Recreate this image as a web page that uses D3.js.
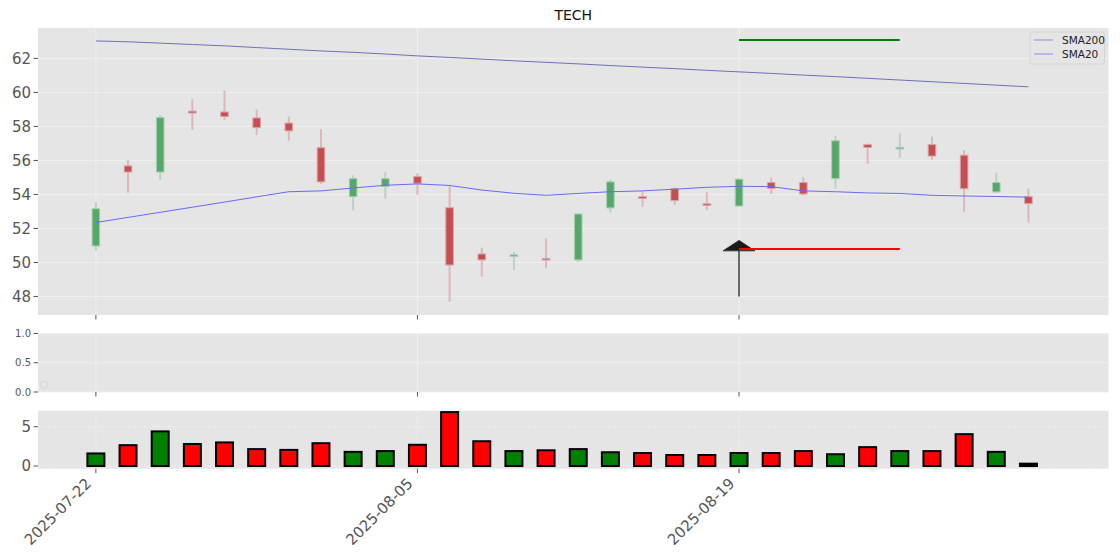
<!DOCTYPE html>
<html><head><meta charset="utf-8">
<script src="https://cdn.jsdelivr.net/npm/d3@7"></script>
<style>body{margin:0;background:#fff}svg{display:block;font-family:"DejaVu Sans",sans-serif}</style>
</head><body>
<svg id="c" width="1120" height="560"></svg>
<script>
const dates = ["2025-07-22","2025-07-23","2025-07-24","2025-07-25","2025-07-28","2025-07-29","2025-07-30","2025-07-31","2025-08-01","2025-08-04",
  "2025-08-05","2025-08-06","2025-08-07","2025-08-08","2025-08-11","2025-08-12","2025-08-13","2025-08-14","2025-08-15","2025-08-18",
  "2025-08-19","2025-08-20","2025-08-21","2025-08-22","2025-08-25","2025-08-26","2025-08-27","2025-08-28","2025-08-29","2025-09-02"];
const opens  = [50.97,55.68,55.32,58.90,58.85,58.50,58.20,56.75,53.87,54.46,55.05,53.22,50.50,50.38,50.24,50.15,53.21,53.87,54.34,53.45,53.32,54.70,54.70,54.93,56.93,56.68,56.93,56.31,54.15,53.87];
const highs  = [53.56,56.03,58.68,59.60,60.10,59.00,58.58,57.84,55.13,55.32,55.25,54.56,50.87,50.62,51.40,52.90,54.85,54.20,54.42,54.15,54.95,55.00,55.00,57.45,57.00,57.60,57.40,56.60,55.28,54.34];
const lows   = [50.69,54.11,54.85,57.79,58.38,57.50,57.17,54.62,53.05,53.75,53.99,47.69,49.16,49.56,49.68,50.03,52.93,53.28,53.40,53.09,53.30,54.03,53.95,54.35,55.80,56.15,56.03,52.97,54.10,52.34];
const closes = [53.16,55.32,58.52,58.79,58.58,57.93,57.74,54.74,54.93,54.93,54.66,49.85,50.15,50.45,50.16,52.85,54.74,53.76,53.64,53.35,54.90,54.35,54.03,57.16,56.76,56.77,56.26,54.34,54.70,53.46];
const sma200 = [63.03,62.98,62.90,62.82,62.74,62.64,62.54,62.44,62.36,62.26,62.15,62.06,61.96,61.86,61.77,61.68,61.58,61.49,61.40,61.30,61.21,61.12,61.02,60.93,60.83,60.73,60.63,60.53,60.43,60.33];
const sma20  = [52.35,52.65,52.95,53.25,53.55,53.86,54.16,54.21,54.38,54.54,54.62,54.53,54.26,54.07,53.95,54.06,54.16,54.21,54.31,54.42,54.48,54.46,54.21,54.16,54.09,54.06,53.95,53.91,53.88,53.84];
const volumes = [1.6,2.65,4.4,2.8,3.0,2.15,2.05,2.9,1.8,1.9,2.7,6.85,3.15,1.9,2.0,2.15,1.75,1.65,1.4,1.4,1.65,1.65,1.9,1.5,2.4,1.9,1.9,4.05,1.8,0.3];
const volColors = ["green","red","green","red","red","red","red","red","green","green","red","red","red","green","red","green","green","red","red","red",
  "green","red","red","green","red","green","red","red","green","black"];
const tickIdx = [0,10,20];
const tickLabels = ["2025-07-22","2025-08-05","2025-08-19"];
const priceTicks = [48,50,52,54,56,58,60,62];
const midTicks = [0,0.5,1];
const volTicks = [0,5];
const seriesNames = ["SMA200","SMA20"];
const signalStart = 20, signalEnd = 25;
const resistanceLevel = 63.09, supportLevel = 50.79;
const arrowFrom = 48.0, arrowTo = 51.3;

const svg = d3.select("#c");
const L = 38, R = 1108.5;
const x = d3.scaleLinear().domain([-1.8, 31.49]).range([L, R]);
const yP = d3.scaleLinear().domain([46.91, 63.79]).range([315, 28]);
const yM = d3.scaleLinear().domain([0, 1]).range([392, 333.5]);
const yV = d3.scaleLinear().domain([-0.34, 7.03]).range([468.7, 410.7]);
const BG = "#e5e5e5", TXT = "#555";

function panel(y, ticks, fontSize, dash, fmt) {
  const g = svg.append("g");
  const [b, t] = y.range();
  g.append("rect").attr("x", L).attr("y", t).attr("width", R - L).attr("height", b - t).attr("fill", BG);
  const grid = g.append("g").attr("stroke", "#efefef").attr("stroke-width", 1.1);
  if (dash) grid.attr("stroke-dasharray", dash).attr("stroke", "#eeeeee");
  ticks.forEach(v => grid.append("line").attr("x1", L).attr("x2", R).attr("y1", y(v)).attr("y2", y(v)));
  tickIdx.forEach(i => grid.append("line").attr("x1", x(i)).attr("x2", x(i)).attr("y1", t).attr("y2", b));
  ticks.forEach(v => {
    g.append("line").attr("x1", L - 4.5).attr("x2", L).attr("y1", y(v)).attr("y2", y(v)).attr("stroke", TXT).attr("stroke-width", 1);
    g.append("text").attr("x", L - 7).attr("y", y(v)).attr("dy", "0.36em").attr("text-anchor", "end")
      .attr("font-size", fontSize).attr("fill", TXT).text(fmt(v));
  });
  tickIdx.forEach(i => g.append("line").attr("x1", x(i)).attr("x2", x(i)).attr("y1", b).attr("y2", b + 4.5)
    .attr("stroke", TXT).attr("stroke-width", 1));
  return g;
}

// main panel
const gm = panel(yP, priceTicks, 15, null, d => d);
const idx = d3.range(dates.length);
const up = i => closes[i] >= opens[i];
gm.append("g").selectAll("line").data(idx).join("line")
  .attr("x1", i => x(i)).attr("x2", i => x(i)).attr("y1", i => yP(highs[i])).attr("y2", i => yP(lows[i]))
  .attr("stroke", i => up(i) ? "#bad3c0" : "#dbb8b9").attr("stroke-width", 2);
gm.append("g").selectAll("rect").data(idx).join("rect")
  .attr("x", i => x(i) - 3.8).attr("width", 7.6)
  .attr("y", i => yP(Math.max(opens[i], closes[i])))
  .attr("height", i => Math.max(1.6, yP(Math.min(opens[i], closes[i])) - yP(Math.max(opens[i], closes[i]))))
  .attr("fill", i => up(i) ? "#55a868" : "#c44e52")
  .attr("stroke", i => up(i) ? "#a9cfb2" : "#dca4a6").attr("stroke-width", 1);

const line = s => d3.line().x((d, i) => x(i)).y(d => yP(d))(s);
gm.append("path").attr("d", line(sma200)).attr("fill", "none").attr("stroke", "#6f6fba").attr("stroke-width", 1);
gm.append("path").attr("d", line(sma20)).attr("fill", "none").attr("stroke", "#6a6af5").attr("stroke-width", 1);

// arrow
const ax = x(signalStart), tipY = yP(arrowTo), baseY = tipY + 10.5;
gm.append("line").attr("x1", ax).attr("x2", ax).attr("y1", yP(arrowFrom)).attr("y2", baseY).attr("stroke", "#4a4a4a").attr("stroke-width", 1.6);
gm.append("path").attr("d", `M${ax},${tipY} L${ax + 16},${baseY} L${ax - 16},${baseY} Z`)
  .attr("fill", "#1a1a1a").attr("stroke", "#333").attr("stroke-width", 0.8);

// signal lines
gm.append("line").attr("x1", x(signalStart)).attr("x2", x(signalEnd)).attr("y1", yP(resistanceLevel)).attr("y2", yP(resistanceLevel))
  .attr("stroke", "#008000").attr("stroke-width", 2);
gm.append("line").attr("x1", x(signalStart)).attr("x2", x(signalEnd)).attr("y1", yP(supportLevel)).attr("y2", yP(supportLevel))
  .attr("stroke", "#ff0000").attr("stroke-width", 2);

// legend
const lg = gm.append("g");
lg.append("rect").attr("x", 1030).attr("y", 32).attr("width", 74.5).attr("height", 32).attr("rx", 2.5)
  .attr("fill", "#e5e5e5").attr("stroke", "#d4d4d4").attr("stroke-width", 1);
const legColors = ["#a9a9d4", "#a9a9ee"];
seriesNames.forEach((n, k) => {
  const yy = 40 + k * 14;
  lg.append("line").attr("x1", 1034).attr("x2", 1053).attr("y1", yy).attr("y2", yy).attr("stroke", legColors[k]).attr("stroke-width", 1.5);
  lg.append("text").attr("x", 1062).attr("y", yy).attr("dy", "0.36em").attr("font-size", 10.5).attr("fill", "#222").text(n);
});

// title
svg.append("text").attr("x", (L + R) / 2).attr("y", 20).attr("text-anchor", "middle").attr("font-size", 14).attr("fill", "#111").text("TECH");

// middle panel
const gmid = panel(yM, midTicks, 10, null, d => d.toFixed(1));
gmid.append("rect").attr("x", 40.5).attr("y", 381.5).attr("width", 6.5).attr("height", 6.5).attr("rx", 1.5)
  .attr("fill", "#e5e5e5").attr("stroke", "#d6d6d6").attr("stroke-width", 1);

// volume panel
const gv = panel(yV, volTicks, 15, "3,2", d => d);
gv.append("g").selectAll("rect").data(idx).join("rect")
  .attr("x", i => x(i) - 8.5).attr("width", 17)
  .attr("y", i => yV(volumes[i])).attr("height", i => yV(0) - yV(volumes[i]))
  .attr("fill", i => volColors[i]).attr("stroke", "#000").attr("stroke-width", 2);

// x tick labels
tickIdx.forEach((i, k) => {
  svg.append("text").attr("transform", `translate(${x(i) - 11},${477}) rotate(-45)`)
    .attr("text-anchor", "end").attr("dy", "0.7em").attr("font-size", 15).attr("fill", TXT).text(tickLabels[k]);
});
</script>
</body></html>
